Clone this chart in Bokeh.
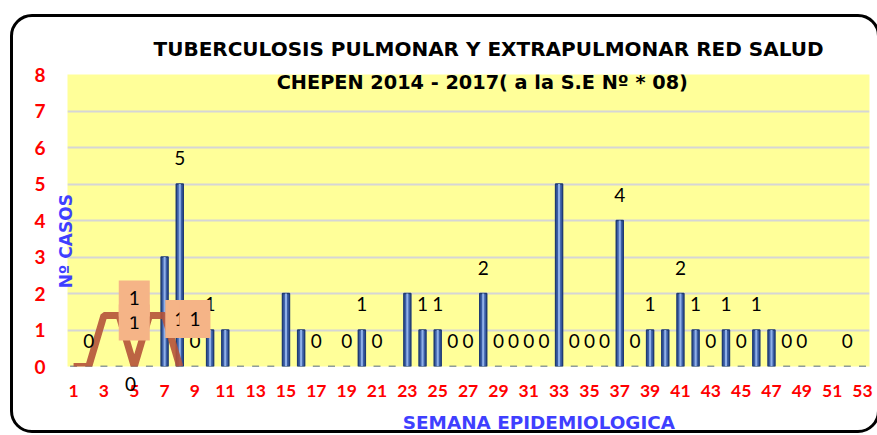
import math
from bokeh.plotting import figure
from bokeh.models import (Range1d, FixedTicker, Label, ColumnDataSource, Title,
                          LinearAxis, InlineStyleSheet)
from bokeh.embed import file_html
from bokeh.resources import INLINE
from bokeh.core.properties import value

# ---------------- data ----------------
semanas = list(range(1, 54))
casos = [0, 0, 0, 0, 0, 0, 3, 5, 0, 1,
         1, 0, 0, 0, 2, 1, 0, 0, 0, 1,
         0, 0, 2, 1, 1, 0, 0, 2, 0, 0,
         0, 0, 5, 0, 0, 0, 4, 0, 1, 1,
         2, 1, 0, 1, 0, 1, 1, 0, 0, 0,
         0, 0, 0]
etiquetas = ["", "0", "", "", "", "", "", "5", "0", "1",
             "", "", "", "", "", "", "0", "", "0", "1",
             "0", "", "", "1", "1", "0", "0", "2", "0", "0",
             "0", "0", "", "0", "0", "0", "4", "0", "1", "",
             "2", "1", "0", "1", "0", "1", "", "0", "0", "",
             "", "0", ""]
semanas_linea = [1, 2, 3, 4, 5, 6, 7, 8]
valores_linea = [0, 0, 1.4, 1.4, 0, 1.4, 1.4, 0]
ticks_x = list(range(1, 54, 2))
ticks_y = list(range(0, 9))

titulo1 = "TUBERCULOSIS PULMONAR Y EXTRAPULMONAR RED SALUD"
titulo2 = "CHEPEN 2014 -  2017( a la S.E Nº * 08)"
eje_x = "SEMANA EPIDEMIOLOGICA"
eje_y = "Nº CASOS"

FONT = "Lato"
BFONT = "DejaVu Sans"
RED = "#ff0000"
BLUE = "#3f3fff"

src = ColumnDataSource(dict(semana=semanas, casos=casos, etiqueta=etiquetas))

p = figure(width=877, height=435, output_backend="svg", toolbar_location=None,
           x_range=Range1d(0.6, 53.46), y_range=Range1d(0, 8),
           min_border_left=67, min_border_right=8, min_border_top=74, min_border_bottom=69)
p.background_fill_color = "#ffff99"
p.border_fill_color = "white"
p.outline_line_color = None

p.xgrid.grid_line_color = None
p.ygrid.grid_line_color = "#d6d6d6"
p.ygrid.grid_line_width = 2
p.ygrid.ticker = FixedTicker(ticks=ticks_y)

p.xaxis.ticker = FixedTicker(ticks=ticks_x)
p.yaxis.ticker = FixedTicker(ticks=ticks_y)
for ax in (p.xaxis, p.yaxis):
    ax.axis_line_color = None
    ax.major_tick_line_color = None
    ax.minor_tick_line_color = None
    ax.major_label_text_color = RED
    ax.major_label_text_font = FONT
    ax.major_label_text_font_style = "bold"
p.xaxis.major_label_text_font_size = "17.5px"
p.yaxis.major_label_text_font_size = "19px"
p.xaxis.major_label_standoff = 12
p.yaxis.major_label_standoff = 16

# y-axis title (sits against the plot area, a little below the middle)
p.yaxis.axis_label = eje_y + "\u00a0" * 7
p.yaxis.axis_label_text_font = BFONT
p.yaxis.axis_label_text_font_size = "17px"
p.yaxis.axis_label_text_font_style = "bold"
p.yaxis.axis_label_text_color = BLUE
p.yaxis.axis_label_standoff = -45

# extra axis carrying the line's "0" label under week 5
zero_axis = LinearAxis(ticker=FixedTicker(ticks=[4.75]), major_label_overrides={4.75: "0"},
                       axis_line_color=None, major_tick_line_color=None,
                       minor_tick_line_color=None, major_label_text_font=FONT,
                       major_label_text_font_size="19px", major_label_text_color="black",
                       major_label_standoff=-29)
p.add_layout(zero_axis, "below")

# axis that only carries the x title (shifted right of the middle)
title_axis = LinearAxis(ticker=FixedTicker(ticks=[]),
                        axis_line_color=None, major_tick_line_color=None,
                        minor_tick_line_color=None, major_label_standoff=0,
                        axis_label="\u00a0" * 22 + eje_x, axis_label_standoff=12,
                        axis_label_text_font=BFONT, axis_label_text_font_size="18.4px",
                        axis_label_text_font_style="bold", axis_label_text_color=BLUE,
                        axis_label_text_line_height=1.0)
p.add_layout(title_axis, "below")

# bars
p.vbar(x="semana", top="casos", width=0.46, source=src,
       fill_color="#3b5ea6", line_color="#1f3b73", line_width=1.5)
p.vbar(x="semana", top="casos", width=0.14, source=src,
       fill_color="#8fb0e8", line_color=None)

# line
p.line(semanas_linea, valores_linea, line_color="#b5533a", line_width=7, line_alpha=0.9)

# data labels
p.text(x="semana", y="casos", text="etiqueta", source=src, y_offset=-26,
       text_align="center", text_baseline="middle", text_font=value(FONT),
       text_font_size="19px", text_color="black")

# line labels with orange boxes
def lbl(x, y, t, dy=0, pad=(10, 11)):
    p.add_layout(Label(x=x, y=y, text=t, y_offset=dy,
                       text_align="center", text_baseline="middle",
                       text_font=FONT, text_font_size="19px", text_color="black",
                       background_fill_color="#f5b487", padding=pad))

lbl(5, 1.4, "1", dy=-7)
lbl(5, 1.4, "1", dy=17)
lbl(8, 1.3, "1", pad=(9, 12))
lbl(9, 1.3, "1", pad=(10, 12))

# titles
p.add_layout(Title(text=titulo1, align="left", offset=86, standoff=28,
                   text_font=BFONT, text_font_size="20px", text_font_style="bold",
                   text_color="black"), "above")
p.add_layout(Label(x=28.16, y=7.78, text=titulo2, text_align="center", text_baseline="middle",
                   text_font=BFONT, text_font_size="19.3px", text_font_style="bold",
                   text_color="black"))

# rounded chart frame
p.stylesheets = [InlineStyleSheet(css="""
:host { position: relative; overflow: hidden; }
:host::after { content: ""; position: absolute; left: 10px; top: 14px; width: 870px;
  height: 419px; border: 3px solid #000; border-radius: 22px; box-sizing: border-box;
  pointer-events: none; }
""")]

open("out.html", "w").write(file_html(p, INLINE))
